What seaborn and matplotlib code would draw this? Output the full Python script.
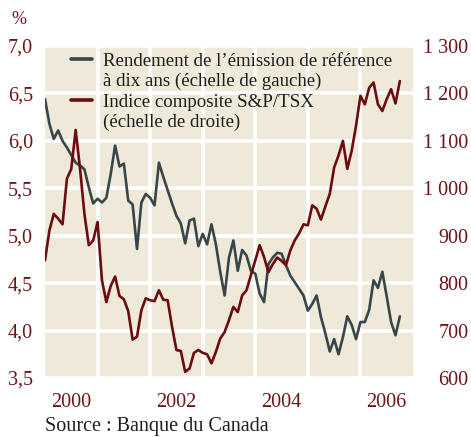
import numpy as np
import pandas as pd
import matplotlib
matplotlib.use("Agg")
import matplotlib.pyplot as plt
from matplotlib.lines import Line2D
from matplotlib.ticker import FixedLocator, FuncFormatter
import seaborn as sns

# Monthly observations, January 2000 onwards
start_year = 2000
yield_10y = [6.44, 6.18, 6.02, 6.11, 6.00, 5.93, 5.85, 5.77, 5.74, 5.70,
             5.51, 5.34, 5.39, 5.35, 5.40, 5.65, 5.95, 5.73, 5.76, 5.37,
             5.33, 4.86, 5.35, 5.44, 5.40, 5.32, 5.77, 5.62, 5.48, 5.34,
             5.21, 5.13, 4.92, 5.16, 5.18, 4.89, 5.02, 4.91, 5.12, 4.91,
             4.62, 4.37, 4.77, 4.95, 4.63, 4.85, 4.79, 4.63, 4.60, 4.39,
             4.30, 4.70, 4.77, 4.82, 4.81, 4.69, 4.58, 4.51, 4.44, 4.37,
             4.21, 4.28, 4.37, 4.14, 3.97, 3.78, 3.91, 3.75, 3.93, 4.15,
             4.06, 3.91, 4.09, 4.09, 4.22, 4.53, 4.45, 4.62, 4.36, 4.09,
             3.95, 4.15]
tsx_index = [848, 911, 946, 936, 924, 1020, 1041, 1123, 1041, 946,
             880, 890, 929, 806, 760, 794, 814, 773, 766, 741,
             681, 687, 743, 768, 764, 762, 785, 765, 764, 708,
             659, 657, 613, 620, 653, 659, 653, 650, 631, 655,
             683, 697, 722, 750, 739, 774, 785, 817, 848, 880,
             855, 823, 840, 854, 847, 838, 869, 890, 905, 924,
             922, 964, 957, 934, 962, 988, 1044, 1069, 1100, 1041,
             1079, 1132, 1195, 1177, 1212, 1223, 1177, 1163, 1188, 1209,
             1179, 1226]

year_labels = ["2000", "2002", "2004", "2006"]
left_ticks = [3.5, 4.0, 4.5, 5.0, 5.5, 6.0, 6.5, 7.0]
right_ticks = [600, 700, 800, 900, 1000, 1100, 1200, 1300]

label_yield = ["Rendement de l’émission de référence", "à dix ans (échelle de gauche)"]
label_tsx = ["Indice composite S&P/TSX", "(échelle de droite)"]

df = pd.DataFrame({
    "t": start_year + np.arange(len(yield_10y)) / 12.0,
    "rendement": yield_10y,
    "tsx": tsx_index,
})

sns.set_theme(style="white")
plt.rcParams["font.family"] = ["Liberation Serif", "DejaVu Serif"]

GREY = "#38464a"
RED = "#6b0c10"
TICK_RED = "#6e1418"
BG = "#eee9d8"

fig = plt.figure(figsize=(4.71, 4.37), dpi=100)
ax = fig.add_axes([45 / 471, 1 - 378 / 437, 368 / 471, 332 / 437])
ax2 = ax.twinx()

ax.set_facecolor(BG)
ax2.set_facecolor("none")

sns.lineplot(data=df, x="t", y="rendement", ax=ax, color=GREY, linewidth=1.9)
sns.lineplot(data=df, x="t", y="tsx", ax=ax2, color=RED, linewidth=1.9)

ax.set_xlim(2000, 2007)
ax.set_ylim(3.5, 7.0)
ax2.set_ylim(600, 1300)

# Year boundaries as grid, labels centred in each labelled year
ax.xaxis.set_major_locator(FixedLocator(range(2001, 2007)))
ax.xaxis.set_major_formatter(FuncFormatter(lambda v, p: ""))
ax.xaxis.set_minor_locator(FixedLocator([int(y) + 0.5 for y in year_labels]))
ax.set_xticklabels(year_labels, minor=True)

ax.set_yticks(left_ticks)
ax.yaxis.set_major_formatter(FuncFormatter(lambda v, p: f"{v:.1f}".replace(".", ",")))
ax2.set_yticks(right_ticks)
ax2.yaxis.set_major_formatter(FuncFormatter(
    lambda v, p: f"{int(v):,}".replace(",", " ")))

ax.grid(True, which="major", color="white", linewidth=2.6)
ax.set_axisbelow(True)
for a in (ax, ax2):
    for s in a.spines.values():
        s.set_visible(False)
    a.set_xlabel("")
    a.set_ylabel("")

ax.tick_params(axis="x", which="both", length=0, pad=11, labelsize=14.5,
               labelcolor=TICK_RED)
ax.tick_params(axis="y", length=0, pad=8.5, labelsize=14.5, labelcolor=TICK_RED)
ax2.tick_params(axis="y", length=0, labelsize=14.5, labelcolor=TICK_RED)
for t in ax2.get_yticklabels():
    t.set_horizontalalignment("right")
ax2.tick_params(axis="y", pad=40)

ax.annotate("%", xy=(19 / 471, 1 - 20 / 437), xycoords="figure fraction",
            ha="center", va="center", fontsize=13, color=TICK_RED)

blank = Line2D([], [], linestyle="none")
handles = [Line2D([], [], color=GREY, linewidth=2.6), blank,
           Line2D([], [], color=RED, linewidth=2.6), blank]
labels = label_yield + label_tsx
leg = ax2.legend(handles, labels, loc="upper left",
                 bbox_to_anchor=(0.07, 0.98), frameon=False, fontsize=13.6,
                 handlelength=1.1, handletextpad=0.6, labelspacing=0.17,
                 borderpad=0.0, borderaxespad=0.0)
for t in leg.get_texts():
    t.set_color("#1e1e1e")

fig.text(45 / 471, 1 - 427 / 437, "Source : Banque du Canada",
         ha="left", va="center", fontsize=14.5, color="#1e1e1e")

fig.savefig("out.png", dpi=100)
